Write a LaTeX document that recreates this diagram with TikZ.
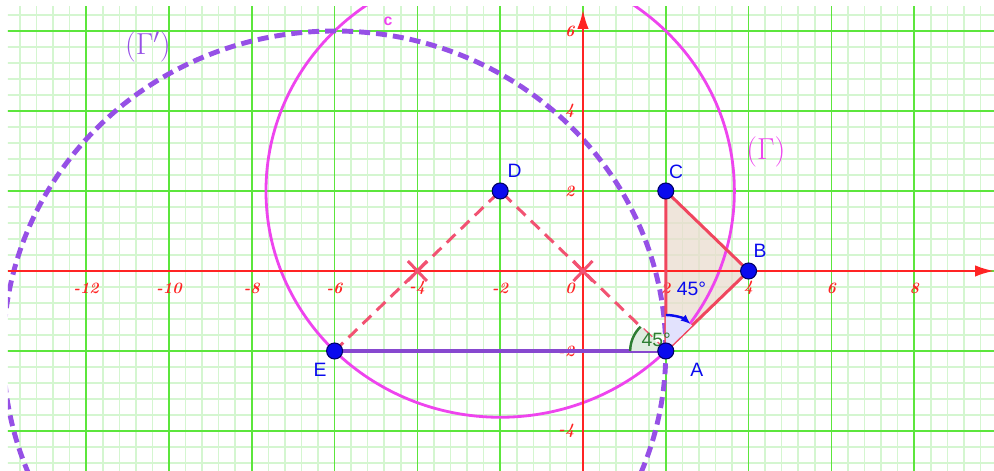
\documentclass[tikz,border=0pt]{standalone}
\usepackage{fontspec}
\newfontfamily\ggbsans{Liberation Sans}
\usepackage{tikz}
\usetikzlibrary{arrows.meta,positioning}
\usepackage{xcolor}
\definecolor{gridmajor}{HTML}{5CE63C}
\definecolor{gridminor}{HTML}{D4F6D0}
\definecolor{axisred}{HTML}{FF2424}
\definecolor{segred}{HTML}{F0465E}
\definecolor{dashred}{HTML}{F25272}
\definecolor{circmag}{HTML}{EE44EE}
\definecolor{circpurple}{HTML}{9650E6}
\definecolor{ptblue}{HTML}{0A0AEE}
\definecolor{anggreen}{HTML}{2E7D32}
\definecolor{trifill}{HTML}{EADCCF}

\begin{document}
\begin{tikzpicture}[>=Latex,x=0.828cm,y=0.8cm,
  pt/.style={circle,fill=ptblue,draw=blue!40!black,line width=0.6pt,minimum size=0.32cm,inner sep=0pt},
  ptlabel/.style={text=ptblue,font=\ggbsans\fontsize{11}{13}\selectfont,inner sep=0pt},
  ticklabel/.style={text=axisred,font=\bfseries\itshape\fontsize{9}{10}\selectfont,inner sep=0pt},
  axisline/.style={axisred,line width=1.2pt,-{Latex[length=0.38cm,width=0.23cm]}},
  dashseg/.style={dashred,line width=1.7pt,dash pattern=on 0.24cm off 0.15cm},
  midmark/.style={dashred,line width=1.7pt}]

  \useasboundingbox (-14.082,-5) rectangle (9.928,6.775);
  \coordinate (gridSW) at (-13.89,-5);
  \coordinate (gridNE) at (9.928,6.6);

  % grid
  \begin{scope}
    \clip (gridSW) rectangle (gridNE);
    \foreach \i in {-36,...,25}
      \draw[gridminor,line width=0.9pt] (\i*0.4,-5.2) -- (\i*0.4,7.2);
    \foreach \j in {-13,...,17}
      \draw[gridminor,line width=0.9pt] (-14.4,\j*0.4) -- (10.4,\j*0.4);
    \foreach \i in {-14,-12,...,10}
      \draw[gridmajor,line width=0.9pt] (\i,-5.2) -- (\i,7.2);
    \foreach \j in {-4,-2,...,6}
      \draw[gridmajor,line width=0.9pt] (-14.4,\j) -- (10.4,\j);
  \end{scope}

  \coordinate (A) at (2,-2);
  \coordinate (B) at (4,0);
  \coordinate (C) at (2,2);
  \coordinate (D) at (-2,2);
  \coordinate (E) at (-6,-2);

  % triangle ABC
  \fill[trifill,opacity=0.75] (A) -- (B) -- (C) -- cycle;

  % circles
  \begin{scope}
    \clip (gridSW) rectangle (gridNE);
    \draw[circmag,line width=1.6pt] (D) circle[radius=5.657];
    \draw[circpurple,line width=2.8pt,dash pattern=on 0.22cm off 0.12cm] (E) circle[radius=8];
  \end{scope}

  % axes
  \coordinate (xl) at (-13.89,0);
  \coordinate (xr) at (9.928,0);
  \coordinate (yb) at (0,-5);
  \coordinate (yt) at (0,6.525);
  \draw[axisline] (xl) -- (xr);
  \draw[axisline] (yb) -- (yt);
  \foreach \k [count=\i] in {-12,-10,-8,-6,-4,-2,2,4,6,8}
    \node (xt\i) [ticklabel] at (\k,-0.43) {\k};
  \foreach \k [count=\i] in {-4,-2,2,4,6}
    \node (yt\i) [ticklabel,anchor=east] at (-0.2,\k) {\k};
  \node (orig) [ticklabel] at (-0.31,-0.43) {0};

  % sides
  \draw[segred,line width=1.7pt,line join=round] (A) -- (B) -- (C) -- cycle;
  \draw[dashseg] (E) -- (D) -- (A);
  \draw[circpurple!90!black,line width=2.3pt] (E) -- (A);

  % midpoint marks
  \coordinate (M1) at (-4,0);
  \coordinate (M2) at (0,0);
  \foreach \m in {M1,M2} {
    \draw[midmark] ([shift={(-0.23,-0.25)}]\m) -- ([shift={(0.23,0.25)}]\m);
    \draw[midmark] ([shift={(-0.23,0.25)}]\m) -- ([shift={(0.23,-0.25)}]\m);
  }

  % angles at A
  \fill[anggreen!15] (A) -- ([shift={(180:0.86)}]A) arc[start angle=180,end angle=135,radius=0.86] -- cycle;
  \draw[anggreen,line width=1.4pt] ([shift={(180:0.86)}]A) arc[start angle=180,end angle=135,radius=0.86];
  \fill[ptblue!12] (A) -- ([shift={(90:0.9)}]A) arc[start angle=90,end angle=45,radius=0.9] -- cycle;
  \draw[ptblue,line width=1.4pt,-{Latex[length=0.2cm,width=0.16cm]}] ([shift={(90:0.9)}]A) arc[start angle=90,end angle=48,radius=0.9];
  \node (angE) [text=anggreen,font=\ggbsans\fontsize{11}{13}\selectfont,inner sep=0pt] at (1.77,-1.72) {45°};
  \node (angB) [text=ptblue,font=\ggbsans\fontsize{11}{13}\selectfont,inner sep=0pt] at (2.62,-0.45) {45°};

  % points
  \node (ptA) [pt] at (A) {};
  \node (ptB) [pt] at (B) {};
  \node (ptC) [pt] at (C) {};
  \node (ptD) [pt] at (D) {};
  \node (ptE) [pt] at (E) {};
  \node (labA) [ptlabel] at (2.75,-2.48) {A};
  \node (labB) [ptlabel] at (4.28,0.5) {B};
  \node (labC) [ptlabel] at (2.25,2.48) {C};
  \node (labD) [ptlabel] at (-1.65,2.5) {D};
  \node (labE) [ptlabel] at (-6.35,-2.48) {E};

  % circle names
  \node (namec) [text=circmag,font=\ggbsans\bfseries\fontsize{9}{11}\selectfont,inner sep=0pt] at (-4.71,6.25) {c};
  \node (nameG) [text=circmag,font=\fontsize{17}{20}\selectfont,inner sep=0pt] at (4.42,2.975) {$(\Gamma)$};
  \node (nameGp) [text=circpurple,font=\fontsize{17}{20}\selectfont,inner sep=0pt] at (-10.51,5.6) {$(\Gamma')$};
\end{tikzpicture}
\end{document}
